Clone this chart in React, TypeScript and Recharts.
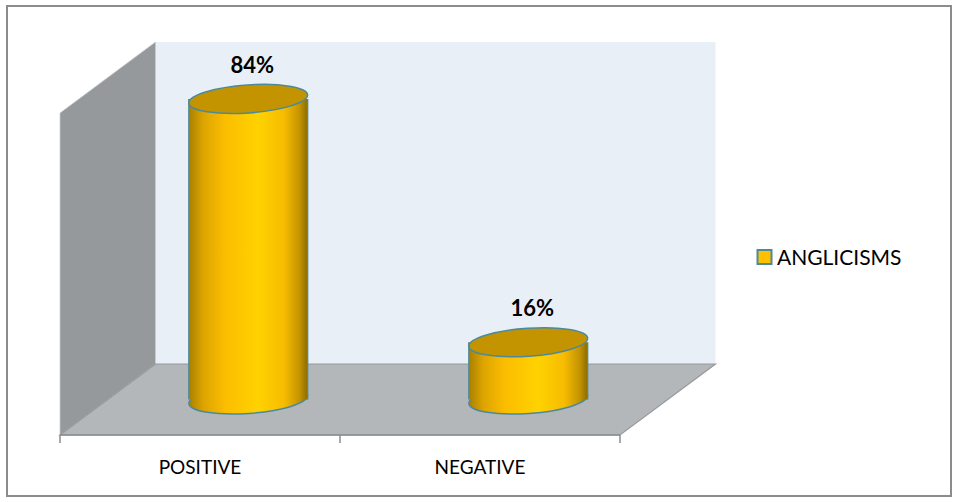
import React from "react";
import { BarChart, Bar, XAxis, YAxis, LabelList, Legend } from "recharts";

const categories = ["POSITIVE", "NEGATIVE"];
const anglicisms = [84, 16];
const seriesName = "ANGLICISMS";

const data = categories.map((name, i) => ({ name, value: anglicisms[i] }));

const W = 958;
const H = 502;
const M = { top: 113, right: 338, bottom: 0, left: 60 };
const AXIS_H = 67;
// 3D depth of the box (back wall offset)
const DX = 95.5;
const DY = -71;
const FONT = "Lato, 'Open Sans', sans-serif";

const L = M.left;
const R = W - M.right;
const T = M.top;
const B = H - M.bottom - AXIS_H;

const Walls = () => {
  const band = (R - L) / categories.length;
  const ticks = [];
  for (let i = 0; i <= categories.length; i++) ticks.push(L + i * band);
  return (
    <svg width={W} height={H} style={{ position: "absolute", left: 0, top: 0 }}>
      <rect x={7} y={6} width={944} height={490} fill="#fff" stroke="#8c8c8c" strokeWidth={2} />
      <rect x={L + DX} y={T + DY} width={R - L} height={B - T} fill="#e8eff6" />
      <polygon
        points={`${L},${T} ${L + DX},${T + DY} ${L + DX},${B + DY} ${L},${B}`}
        fill="#95999c"
        stroke="#c8cbcd"
        strokeWidth={0.8}
      />
      <polygon
        points={`${L},${B} ${L + DX},${B + DY} ${R + DX},${B + DY} ${R},${B}`}
        fill="#b3b7ba"
        stroke="#969a9d"
        strokeWidth={1.2}
      />
      {ticks.map((x, i) => (
        <line key={i} x1={x} y1={B} x2={x} y2={B + 8} stroke="#8c8c8c" strokeWidth={1.5} />
      ))}
    </svg>
  );
};

const Cylinder = (props: any) => {
  const { x, y, width, height } = props;
  const rx = width / 2;
  const ry = 14;
  const cx = x + rx + DX / 2;
  const top = y + DY / 2;
  const bottom = y + height + DY / 2;
  const rot = -4;
  return (
    <g>
      <ellipse cx={cx} cy={bottom} rx={rx} ry={ry} fill="url(#cylSide)" stroke="#4b8a9b" strokeWidth={1.5} transform={`rotate(${rot} ${cx} ${bottom})`} />
      <rect x={cx - rx} y={top} width={width} height={bottom - top} fill="url(#cylSide)" />
      <line x1={cx - rx} y1={top} x2={cx - rx} y2={bottom} stroke="#4b8a9b" strokeWidth={1.2} />
      <line x1={cx + rx} y1={top} x2={cx + rx} y2={bottom} stroke="#4b8a9b" strokeWidth={1.2} />
      <ellipse cx={cx} cy={top} rx={rx} ry={ry} fill="#c49400" stroke="#4b8a9b" strokeWidth={1.5} transform={`rotate(${rot} ${cx} ${top})`} />
    </g>
  );
};

const ValueLabel = (props: any) => {
  const { x, y, width, value } = props;
  const cx = x + width / 2 + DX / 2 + 4;
  const top = y + DY / 2;
  return (
    <text x={cx} y={top - 26} textAnchor="middle" fontFamily={FONT} fontWeight="bold" fontSize={22} fill="#000">
      {value}%
    </text>
  );
};

const LegendContent = () => (
  <div style={{ display: "flex", alignItems: "center", fontFamily: FONT, fontSize: 21, color: "#000" }}>
    <svg width={18} height={18} style={{ marginRight: 3 }}>
      <rect x={1.5} y={2} width={14} height={14} fill="#ffc000" stroke="#4b8a9b" strokeWidth={2} />
    </svg>
    <span>{seriesName}</span>
  </div>
);

export default function App() {
  return (
    <div style={{ position: "absolute", left: 0, top: 0, width: W, height: H }}>
      <Walls />
      <div style={{ position: "absolute", left: 0, top: 0 }}>
        <BarChart width={W} height={H} data={data} margin={M}>
          <defs>
            <linearGradient id="cylSide" x1="0" y1="0" x2="1" y2="0">
              <stop offset="0%" stopColor="#a88000" />
              <stop offset="12%" stopColor="#dca400" />
              <stop offset="30%" stopColor="#fbbd00" />
              <stop offset="58%" stopColor="#ffd200" />
              <stop offset="80%" stopColor="#f7bc00" />
              <stop offset="93%" stopColor="#c49400" />
              <stop offset="100%" stopColor="#8c6c00" />
            </linearGradient>
          </defs>
          <XAxis
            dataKey="name"
            height={AXIS_H}
            axisLine={{ stroke: "#8c8c8c", strokeWidth: 1.5 }}
            tickLine={false}
            tickSize={8}
            tickMargin={18}
            tick={{ fill: "#000", fontSize: 19, fontFamily: FONT }}
          />
          <YAxis hide domain={[0, 90]} />
          <Legend
            layout="horizontal"
            verticalAlign="middle"
            align="center"
            content={<LegendContent />}
            wrapperStyle={{ left: 756, top: 244, width: "auto" }}
          />
          <Bar dataKey="value" name={seriesName} barSize={119} shape={<Cylinder />} isAnimationActive={false}>
            <LabelList dataKey="value" content={<ValueLabel />} />
          </Bar>
        </BarChart>
      </div>
    </div>
  );
}
